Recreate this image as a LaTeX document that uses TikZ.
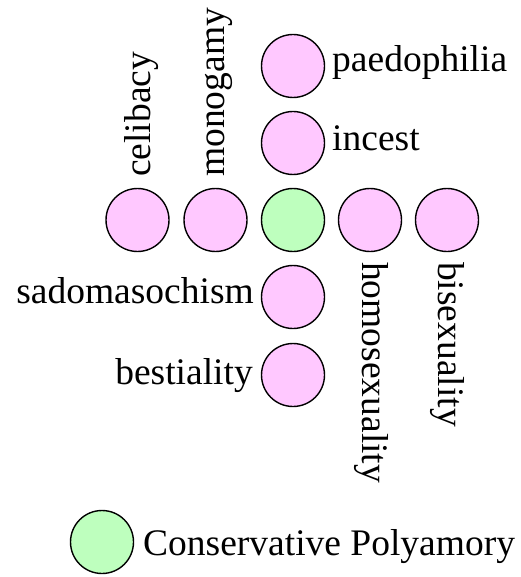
\documentclass[tikz,border=0pt]{standalone}
\usepackage{fontspec}
\setmainfont{Liberation Serif}
\definecolor{pinkfill}{RGB}{255,200,255}
\definecolor{greenfill}{RGB}{190,255,190}
\begin{document}
\begin{tikzpicture}[x=1pt,y=-1pt,
  dot/.style={circle,draw=black,line width=1.4pt,minimum size=63pt,inner sep=0pt},
  pinkdot/.style={dot,fill=pinkfill},
  greendot/.style={dot,fill=greenfill},
  lbl/.style={inner sep=0pt,font=\fontsize{37.5}{42}\selectfont}]
\useasboundingbox (0,0) rectangle (520,577);
% row
\node[pinkdot] (celibacy) at (137.5,220) {};
\node[pinkdot] (monogamy) at (215.5,220) {};
\node[greendot] (center) at (293,220) {};
\node[pinkdot] (homo) at (370,220) {};
\node[pinkdot] (bi) at (447,220) {};
% column
\node[pinkdot] (paedo) at (293,66) {};
\node[pinkdot] (incest) at (293,143) {};
\node[pinkdot] (sado) at (293,297) {};
\node[pinkdot] (best) at (293,375) {};
% legend
\node[greendot] (legend) at (102,542) {};
% labels
\node[lbl,rotate=90,anchor=base west] (tcelibacy) at (150,177) {celibacy};
\node[lbl,rotate=90,anchor=base west] (tmonogamy) at (224,177) {monogamy};
\node[lbl,rotate=-90,anchor=base west] (thomo) at (362,262) {homosexuality};
\node[lbl,rotate=-90,anchor=base west] (tbi) at (438,262) {bisexuality};
\node[lbl,anchor=base west] (tpaedo) at (332,72) {paedophilia};
\node[lbl,anchor=base west] (tincest) at (332,151) {incest};
\node[lbl,anchor=base east] (tsado) at (254,303) {sadomasochism};
\node[lbl,anchor=base east] (tbest) at (253,384) {bestiality};
\node[lbl,anchor=base west] (tlegend) at (143,555) {Conservative Polyamory};
\end{tikzpicture}
\end{document}
